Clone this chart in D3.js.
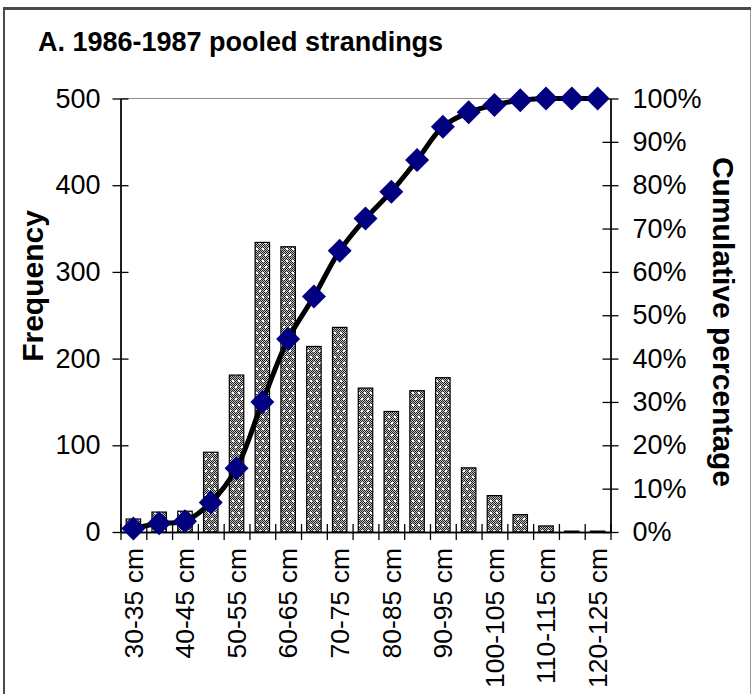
<!DOCTYPE html>
<html>
<head>
<meta charset="utf-8">
<script src="https://cdn.jsdelivr.net/npm/d3@7"></script>
<style>
  html, body { margin: 0; padding: 0; background: #fff; }
  svg { display: block; }
  text { font-family: "Liberation Sans", Arial, sans-serif; fill: #000; }
</style>
</head>
<body>
<svg id="chart" width="752" height="694"></svg>
<script>
// ---- Data ----
const categories = ["30-35 cm","35-40 cm","40-45 cm","45-50 cm","50-55 cm","55-60 cm","60-65 cm",
  "65-70 cm","70-75 cm","75-80 cm","80-85 cm","85-90 cm","90-95 cm","95-100 cm","100-105 cm",
  "105-110 cm","110-115 cm","115-120 cm","120-125 cm"];
const frequency = [15, 23, 24, 92, 181, 334, 329, 214, 236, 166, 139, 163, 178, 74, 42, 20, 7, 1, 1];
const cumulativePct = [0.8, 2.0, 2.5, 6.8, 14.7, 30.0, 44.5, 54.3, 64.9, 72.3, 78.5, 85.8, 93.5, 96.8, 98.5, 99.6, 100, 100, 100];
const shownCategoryLabels = ["30-35 cm","40-45 cm","50-55 cm","60-65 cm","70-75 cm","80-85 cm",
  "90-95 cm","100-105 cm","110-115 cm","120-125 cm"];
const freqTicks = [0, 100, 200, 300, 400, 500];
const pctTicks = [0, 10, 20, 30, 40, 50, 60, 70, 80, 90, 100];
const titleText = "A. 1986-1987 pooled strandings";
const leftTitle = "Frequency";
const rightTitle = "Cumulative percentage";

// ---- Layout ----
const svg = d3.select("#chart");
const L = 120.5, R = 610.5, T = 98.5, B = 532;
const font = '"Liberation Sans", Arial, sans-serif';

// outer frame
svg.append("rect").attr("x", 4).attr("y", 8.5).attr("width", 746.5).attr("height", 700)
  .attr("fill", "none").attr("stroke", "#9a9a9a").attr("stroke-width", 1);
svg.append("line").attr("x1", 3).attr("x2", 751).attr("y1", 8.5).attr("y2", 8.5)
  .attr("stroke", "#4a4a4a").attr("stroke-width", 3);
svg.append("line").attr("x1", 4).attr("x2", 4).attr("y1", 8).attr("y2", 694)
  .attr("stroke", "#4a4a4a").attr("stroke-width", 2);

// patterns
const defs = svg.append("defs");
const chk = defs.append("pattern").attr("id", "chk").attr("width", 2).attr("height", 2)
  .attr("patternUnits", "userSpaceOnUse");
chk.append("rect").attr("width", 2).attr("height", 2).attr("fill", "#c4c4c4");
chk.append("rect").attr("x", 0).attr("y", 0).attr("width", 1).attr("height", 1).attr("fill", "#1e1e1e");
chk.append("rect").attr("x", 1).attr("y", 1).attr("width", 1).attr("height", 1).attr("fill", "#1e1e1e");
const dots = defs.append("pattern").attr("id", "dots").attr("width", 6).attr("height", 12)
  .attr("patternUnits", "userSpaceOnUse");
dots.append("rect").attr("width", 6).attr("height", 12).attr("fill", "url(#chk)");
dots.append("rect").attr("x", 1).attr("y", 2).attr("width", 2).attr("height", 2).attr("fill", "#fff");
dots.append("rect").attr("x", 4).attr("y", 8).attr("width", 2).attr("height", 2).attr("fill", "#fff");

// scales
const x = d3.scaleBand().domain(categories).range([L, R]).paddingInner(0).paddingOuter(0);
const yL = d3.scaleLinear().domain([0, 500]).range([B, T]);
const yR = d3.scaleLinear().domain([0, 100]).range([B, T]);

// top plot border (gray)
svg.append("line").attr("x1", L).attr("x2", R).attr("y1", T).attr("y2", T)
  .attr("stroke", "#8c8c8c").attr("stroke-width", 1);

// bars
const barW = x.bandwidth() * 0.56;
svg.append("g").selectAll("rect").data(categories).join("rect")
  .attr("x", (d) => x(d) + (x.bandwidth() - barW) / 2)
  .attr("y", (d, i) => yL(frequency[i]))
  .attr("width", barW)
  .attr("height", (d, i) => B - yL(frequency[i]))
  .attr("fill", "url(#dots)")
  .attr("stroke", "#000").attr("stroke-width", 1.2);

// axes
function styleAxis(g) {
  g.selectAll("path.domain").attr("stroke", "#000").attr("stroke-width", 1.3);
  g.selectAll(".tick line").attr("stroke", "#000").attr("stroke-width", 1.3);
  g.selectAll("text").attr("font-family", font).attr("fill", "#000");
}
// left axis: cross ticks
svg.append("g").attr("transform", `translate(${L},0)`)
  .call(d3.axisLeft(yL).tickValues(freqTicks).tickSizeInner(-8).tickSizeOuter(0).tickFormat(""))
  .call(styleAxis);
svg.append("g").attr("transform", `translate(${L},0)`)
  .call(d3.axisLeft(yL).tickValues(freqTicks).tickSizeInner(8).tickSizeOuter(0).tickPadding(12))
  .call(styleAxis)
  .call(g => g.selectAll("text").attr("font-size", 27));
// right axis
svg.append("g").attr("transform", `translate(${R},0)`)
  .call(d3.axisRight(yR).tickValues(pctTicks).tickSizeInner(-8).tickSizeOuter(0).tickFormat(""))
  .call(styleAxis);
svg.append("g").attr("transform", `translate(${R},0)`)
  .call(d3.axisRight(yR).tickValues(pctTicks).tickSizeInner(8).tickSizeOuter(0).tickPadding(14)
    .tickFormat(d => d + "%"))
  .call(styleAxis)
  .call(g => g.selectAll("text").attr("font-size", 27));

// bottom axis: cross ticks at category boundaries
const xb = d3.scaleLinear().domain([0, categories.length]).range([L, R]);
svg.append("g").attr("transform", `translate(0,${B})`)
  .call(d3.axisBottom(xb).tickValues(d3.range(categories.length + 1)).tickSizeInner(8).tickSizeOuter(0).tickFormat(""))
  .call(styleAxis);
svg.append("g").attr("transform", `translate(0,${B})`)
  .call(d3.axisTop(xb).tickValues(d3.range(categories.length + 1)).tickSizeInner(8).tickSizeOuter(0).tickFormat(""))
  .call(styleAxis);

// category labels (rotated)
svg.append("g").selectAll("text").data(shownCategoryLabels).join("text")
  .attr("transform", d => `translate(${x(d) + x.bandwidth() / 2},548) rotate(-90)`)
  .attr("text-anchor", "end").attr("dy", "0.35em")
  .attr("font-size", 26.5).attr("font-family", font)
  .text(d => d);

// cumulative line
const pts = categories.map((c, i) => [x(c) + x.bandwidth() / 2, yR(cumulativePct[i])]);
svg.append("path").attr("d", d3.line().curve(d3.curveCatmullRom.alpha(0.5))(pts))
  .attr("fill", "none").attr("stroke", "#000").attr("stroke-width", 5).attr("stroke-linejoin", "round");

// diamonds
const h = 12;
svg.append("g").selectAll("path").data(pts).join("path")
  .attr("d", d => `M${d[0]},${d[1] - h}L${d[0] + h},${d[1]}L${d[0]},${d[1] + h}L${d[0] - h},${d[1]}Z`)
  .attr("fill", "#000080");

// titles
svg.append("text").attr("x", 38).attr("y", 51).attr("font-size", 27).attr("font-weight", "bold")
  .attr("font-family", font).text(titleText);
svg.append("text").attr("transform", "translate(43,286) rotate(-90)").attr("text-anchor", "middle")
  .attr("font-size", 30).attr("font-weight", "bold").attr("font-family", font).text(leftTitle);
svg.append("text").attr("transform", "translate(713,322) rotate(90)").attr("text-anchor", "middle")
  .attr("font-size", 30).attr("font-weight", "bold").attr("font-family", font).text(rightTitle);
</script>
</body>
</html>
